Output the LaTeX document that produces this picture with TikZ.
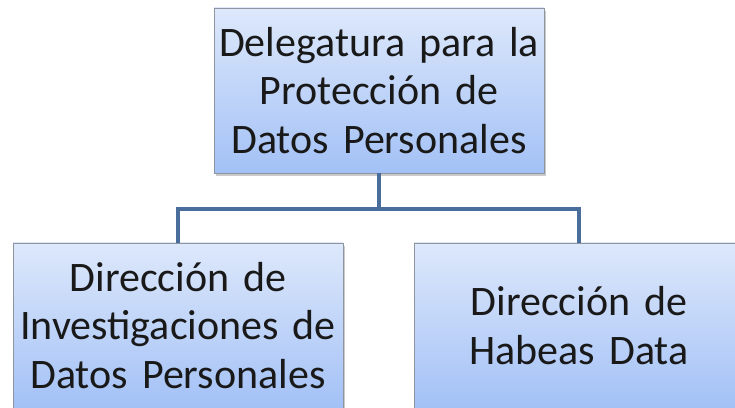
\documentclass[tikz,border=0pt]{standalone}
\usepackage{fontspec}
\setmainfont{Carlito}
\usetikzlibrary{shadows}
\definecolor{linkblue}{HTML}{4A6E9C}
\definecolor{topfill}{HTML}{DDE8FB}
\definecolor{botfill}{HTML}{A3C1F6}
\definecolor{edgegray}{HTML}{8E959E}
\tikzset{
  orgbox/.style={draw=edgegray, line width=0.8pt, top color=topfill, bottom color=botfill,
    minimum width=330pt, minimum height=165pt, text width=326pt, align=center, inner sep=0pt,
    font=\fontsize{42}{48.5}\selectfont, text=black!90,
    drop shadow={shadow xshift=2pt, shadow yshift=-3pt, opacity=0.35, fill=black!60}},
  link/.style={draw=linkblue, line width=4pt}
}
\begin{document}
\begin{tikzpicture}[x=1pt,y=1pt]
\useasboundingbox (0,0) rectangle (735,407);
\clip (0,0) rectangle (735,407);
\node[orgbox] (top) at (379,316.5) {Delegatura para la\\Protección de\\Datos Personales};
\node[orgbox] (left) at (178,81.5) {Dirección de\\Investigaciones de\\Datos Personales};
\node[orgbox] (right) at (579,81.5) {Dirección de\\Habeas Data};
\coordinate (mid) at (379,198);
\draw[link] (top.south) -- (mid);
\draw[link] (left.north) |- (mid) -| (right.north);
\end{tikzpicture}
\end{document}
